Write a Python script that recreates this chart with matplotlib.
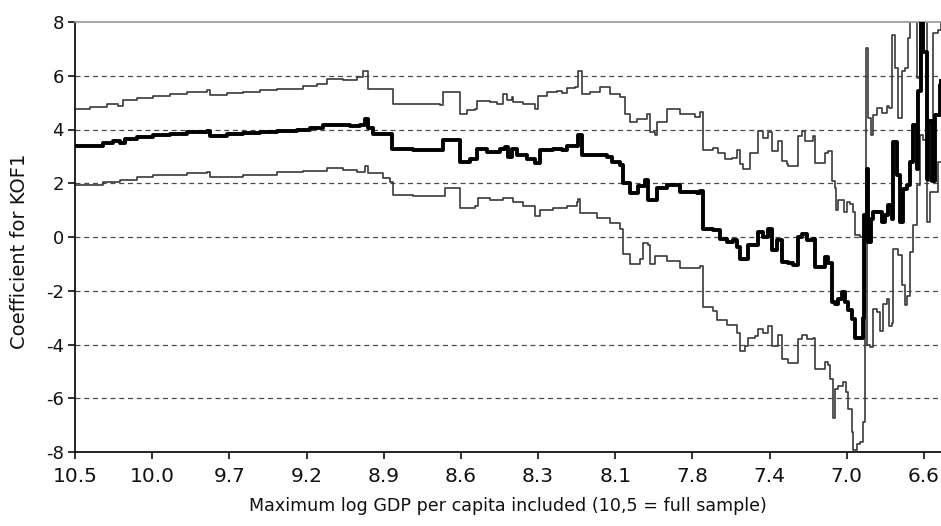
import matplotlib
matplotlib.use("Agg")
import matplotlib.pyplot as plt
import numpy as np

plt.rcParams['font.family'] = ['DejaVu Sans']
plt.rcParams['axes.unicode_minus'] = False

# Category axis: tick labels (maximum log GDP per capita included)
tick_labels = ['10.5', '10.0', '9.7', '9.2', '8.9', '8.6', '8.3', '8.1', '7.8', '7.4', '7.0', '6.6']
x_end = 11.22  # right end of sample position (in tick-spacing units)

# Coefficient estimate (thick line): positions (tick units) and values
mid_x = [0.000, 0.367, 0.496, 0.583, 0.648, 0.799, 1.015, 1.231, 1.447, 1.706, 1.749, 1.966, 2.181, 2.397,
         2.613, 2.873, 3.045, 3.217, 3.391, 3.563, 3.693, 3.758, 3.800, 3.865, 4.059, 4.103, 4.383, 4.729,
         4.772, 4.966, 4.988, 5.118, 5.205, 5.334, 5.507, 5.571, 5.614, 5.658, 5.723, 5.853, 5.960, 6.025,
         6.197, 6.306, 6.371, 6.478, 6.521, 6.565, 6.760, 6.889, 6.954, 7.061, 7.104, 7.191, 7.299, 7.385,
         7.428, 7.515, 7.537, 7.667, 7.839, 8.055, 8.098, 8.141, 8.270, 8.357, 8.444, 8.530, 8.573, 8.616,
         8.681, 8.724, 8.811, 8.854, 8.918, 8.983, 9.027, 9.092, 9.157, 9.242, 9.307, 9.372, 9.416, 9.481,
         9.566, 9.588, 9.675, 9.718, 9.760, 9.805, 9.847, 9.890, 9.934, 9.977, 10.020, 10.064, 10.106,
         10.171, 10.206, 10.227, 10.258, 10.279, 10.310, 10.344, 10.408, 10.452, 10.495, 10.538, 10.582,
         10.603, 10.647, 10.690, 10.732, 10.776, 10.819, 10.862, 10.906, 10.927, 10.962, 10.991, 11.036,
         11.056, 11.100, 11.143, 11.208, 11.221]
mid_y = [3.39, 3.51, 3.57, 3.48, 3.63, 3.72, 3.79, 3.84, 3.89, 3.94, 3.76, 3.82, 3.88, 3.91,
         3.94, 3.98, 4.06, 4.18, 4.18, 4.12, 4.18, 4.39, 4.06, 3.84, 3.82, 3.27, 3.23, 3.23,
         3.62, 3.60, 2.80, 2.92, 3.29, 3.17, 3.29, 3.35, 2.98, 3.29, 3.05, 2.92, 2.74, 3.23,
         3.29, 3.23, 3.38, 3.40, 3.78, 3.05, 3.05, 2.98, 2.80, 2.68, 2.00, 1.63, 1.88, 2.12,
         1.38, 1.38, 1.82, 1.94, 1.69, 1.63, 1.72, 0.30, 0.25, -0.06, -0.18, -0.12, -0.37, -0.80,
         -0.80, -0.31, -0.31, 0.19, 0.00, 0.31, -0.49, -0.12, -0.92, -0.98, -1.03, 0.00, 0.13, -0.12,
         -0.06, -1.10, -1.10, -0.74, -0.98, -2.40, -2.48, -2.30, -2.05, -2.42, -2.73, -3.04, -3.76,
         -3.76, -3.00, 0.81, 2.54, -0.19, 0.68, 0.93, 0.93, 0.56, 0.81, 1.18, 0.68,
         3.54, 2.30, 0.56, 1.80, 1.92, 2.79, 4.15, 2.54, 5.42, 8.50, 6.90, 2.17,
         4.30, 2.10, 4.55, 5.67, 5.80]

# Upper confidence bound (thin line)
up_x = [0.000, 0.194, 0.411, 0.561, 0.626, 0.799, 1.015, 1.231, 1.447, 1.706, 1.749, 1.966, 2.181, 2.397,
        2.613, 2.786, 2.958, 3.132, 3.261, 3.476, 3.650, 3.735, 3.800, 4.059, 4.081, 4.124, 4.383, 4.729,
        4.772, 4.966, 4.988, 5.075, 5.183, 5.205, 5.377, 5.464, 5.549, 5.593, 5.658, 5.679, 5.809, 5.960,
        6.003, 6.112, 6.241, 6.306, 6.371, 6.478, 6.521, 6.565, 6.673, 6.802, 6.932, 7.061, 7.126, 7.191,
        7.278, 7.407, 7.450, 7.515, 7.537, 7.667, 7.839, 8.033, 8.098, 8.141, 8.270, 8.335, 8.422, 8.509,
        8.573, 8.616, 8.659, 8.724, 8.746, 8.811, 8.854, 8.918, 8.983, 9.027, 9.113, 9.157, 9.221, 9.242,
        9.307, 9.372, 9.416, 9.458, 9.523, 9.566, 9.588, 9.675, 9.718, 9.760, 9.805, 9.847, 9.860, 9.890,
        9.934, 9.964, 9.999, 10.042, 10.077, 10.106, 10.171, 10.206, 10.249, 10.279, 10.310, 10.344,
        10.387, 10.452, 10.517, 10.551, 10.582, 10.625, 10.668, 10.711, 10.754, 10.797, 10.819, 10.862,
        10.906, 10.949, 10.991, 11.036, 11.056, 11.100, 11.121, 11.186, 11.221]
up_y = [4.78, 4.84, 4.96, 4.88, 5.09, 5.19, 5.25, 5.31, 5.38, 5.46, 5.28, 5.34, 5.40, 5.46,
        5.50, 5.50, 5.63, 5.69, 5.88, 5.85, 5.94, 6.19, 5.50, 5.50, 5.52, 4.95, 4.94, 4.92,
        5.38, 5.38, 4.58, 4.71, 4.77, 5.05, 5.02, 4.95, 5.32, 5.08, 5.20, 5.02, 4.95, 4.77,
        5.26, 5.38, 5.45, 5.36, 5.54, 5.57, 6.18, 5.32, 5.38, 5.57, 5.32, 5.20, 4.58, 4.28,
        4.40, 4.58, 3.91, 3.78, 4.28, 4.77, 4.58, 4.46, 4.65, 3.23, 3.32, 3.14, 2.89, 2.95,
        3.23, 2.71, 2.52, 2.52, 3.14, 3.14, 3.94, 3.69, 3.91, 3.20, 3.57, 2.83, 2.73, 2.65,
        2.65, 3.75, 3.94, 3.57, 3.57, 3.75, 2.77, 2.77, 3.14, 3.20, 2.07, 1.82, 1.00, 1.36,
        1.36, 0.93, 1.30, 1.24, 0.93, 0.06, 0.00, 0.20, 7.03, 4.43, 3.81, 4.55,
        4.80, 4.60, 4.86, 4.80, 7.53, 6.30, 4.43, 6.16, 6.30, 7.40, 8.50, 8.50,
        5.90, 7.00, 8.50, 4.50, 2.10, 2.20, 7.60, 7.70, 8.30]

# Lower confidence bound (thin line)
lo_x = [0.000, 0.367, 0.583, 0.799, 1.015, 1.447, 1.706, 1.749, 2.181, 2.613, 2.958, 3.261, 3.476, 3.650,
        3.758, 3.800, 3.995, 4.081, 4.124, 4.383, 4.729, 4.794, 4.966, 4.988, 5.183, 5.226, 5.377, 5.549,
        5.679, 5.809, 5.960, 6.025, 6.197, 6.371, 6.500, 6.521, 6.543, 6.760, 6.932, 7.061, 7.104, 7.191,
        7.321, 7.364, 7.428, 7.450, 7.515, 7.667, 7.839, 8.098, 8.141, 8.270, 8.314, 8.444, 8.530, 8.573,
        8.616, 8.681, 8.724, 8.811, 8.854, 8.918, 8.983, 9.027, 9.113, 9.157, 9.242, 9.307, 9.372, 9.416,
        9.481, 9.566, 9.588, 9.675, 9.718, 9.760, 9.782, 9.817, 9.847, 9.890, 9.955, 9.990, 10.020, 10.064,
        10.085, 10.128, 10.171, 10.206, 10.236, 10.266, 10.301, 10.344, 10.387, 10.430, 10.473, 10.517,
        10.551, 10.582, 10.603, 10.668, 10.711, 10.754, 10.784, 10.819, 10.862, 10.906, 10.949, 10.991,
        11.036, 11.056, 11.078, 11.143, 11.186, 11.221]
lo_y = [1.94, 2.06, 2.12, 2.24, 2.30, 2.37, 2.43, 2.24, 2.30, 2.43, 2.45, 2.55, 2.49, 2.43,
        2.63, 2.37, 2.18, 2.06, 1.57, 1.51, 1.51, 1.82, 1.82, 1.08, 1.14, 1.45, 1.39, 1.45,
        1.32, 1.14, 0.77, 1.02, 1.08, 1.14, 1.32, 1.40, 0.89, 0.71, 0.52, 0.28, -0.65, -1.02,
        -0.83, -0.22, -0.28, -1.02, -0.71, -0.89, -1.14, -1.08, -2.60, -2.76, -3.07, -3.26, -3.26, -3.56,
        -4.24, -4.06, -3.75, -3.69, -3.44, -3.56, -3.32, -4.06, -3.63, -4.55, -4.67, -4.67, -3.81, -3.63,
        -3.81, -3.75, -4.90, -4.90, -4.65, -4.78, -5.27, -6.74, -5.65, -5.53, -5.40, -5.77, -6.39, -7.26,
        -7.94, -7.70, -7.64, -6.90, 0.43, -4.03, -4.09, -2.67, -2.80, -3.50, -2.50, -2.30,
        -3.30, -3.20, -0.43, -0.68, -1.80, -2.54, -2.20, -0.56, 0.43, 1.92, 3.78, 3.60,
        0.56, 0.56, 1.67, 1.67, 2.79, 2.79]

y_ticks = [-8, -6, -4, -2, 0, 2, 4, 6, 8]

fig = plt.figure(figsize=(9.41, 5.26), dpi=100)
ax = fig.add_axes([75 / 941, 1 - 452 / 526, 1 - 75 / 941, (452 - 22) / 526])

for g in y_ticks[1:-1]:
    ax.axhline(g, color='#4a4a4a', lw=0.9, ls=(0, (4, 3)), zorder=1)

ax.plot(up_x, up_y, color='#3a3a3a', lw=1.2, zorder=2, drawstyle='steps-post')
ax.plot(lo_x, lo_y, color='#3a3a3a', lw=1.2, zorder=2, drawstyle='steps-post')
ax.plot(mid_x, mid_y, color='black', lw=2.8, zorder=3, drawstyle='steps-post')

ax.set_xlim(0, x_end)
ax.set_ylim(-8, 8)
ax.set_yticks(y_ticks)
ax.set_yticklabels([str(v) for v in y_ticks])
ax.set_xticks(range(len(tick_labels)))
ax.set_xticklabels(tick_labels)

ax.spines['right'].set_visible(False)
ax.spines['top'].set_color('#9a9a9a')
ax.spines['top'].set_linewidth(1.2)
for s in ('left', 'bottom'):
    ax.spines[s].set_color('#111111')
    ax.spines[s].set_linewidth(1.3)

ax.tick_params(axis='both', direction='out', length=5, width=1.2, color='#111111',
               labelcolor='#111111')
ax.tick_params(axis='x', pad=6, labelsize=14.5)
ax.tick_params(axis='y', pad=3, labelsize=13)

ax.set_ylabel('Coefficient for KOF1', fontsize=14, color='#111111')
ax.yaxis.set_label_coords(-0.053, 0.467)
ax.set_xlabel('Maximum log GDP per capita included (10,5 = full sample)', fontsize=12.6,
              color='#111111', labelpad=8)

fig.savefig('out.png', dpi=100)
